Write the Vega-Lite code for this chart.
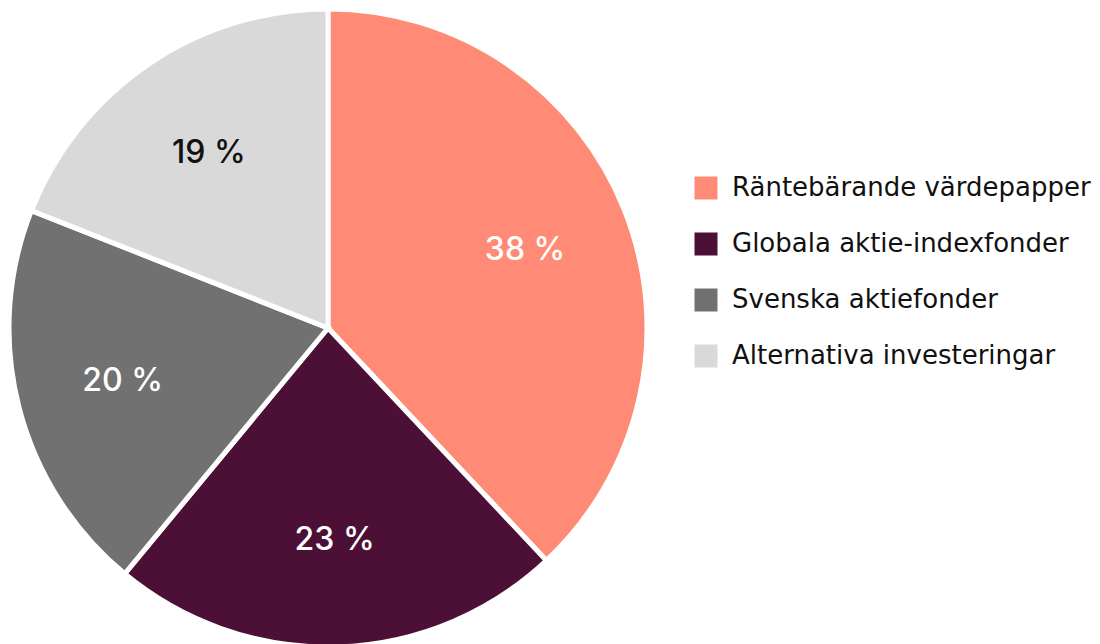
{
  "$schema": "https://vega.github.io/schema/vega-lite/v6.json",
  "width": 656,
  "height": 656,
  "padding": {"left": 0, "top": 0, "right": 444, "bottom": 0},
  "autosize": {"type": "none"},
  "background": "white",
  "config": {"view": {"stroke": null}},
  "data": {
    "values": [
      {"kategori": "Räntebärande värdepapper", "andel": 38, "ordning": 1},
      {"kategori": "Globala aktie-indexfonder", "andel": 23, "ordning": 2},
      {"kategori": "Svenska aktiefonder", "andel": 20, "ordning": 3},
      {"kategori": "Alternativa investeringar", "andel": 19, "ordning": 4}
    ]
  },
  "encoding": {
    "theta": {"field": "andel", "type": "quantitative", "stack": true},
    "order": {"field": "ordning", "type": "quantitative"}
  },
  "layer": [
    {
      "mark": {"type": "arc", "radius": 319, "stroke": "white", "strokeWidth": 5},
      "encoding": {
        "color": {
          "field": "kategori",
          "type": "nominal",
          "sort": null,
          "scale": {
            "domain": ["Räntebärande värdepapper", "Globala aktie-indexfonder", "Svenska aktiefonder", "Alternativa investeringar"],
            "range": ["#FF8A75", "#4C1036", "#717171", "#D9D9D9"]
          },
          "legend": {
            "title": null,
            "orient": "none",
            "legendX": 693,
            "legendY": 175,
            "symbolType": "square",
            "symbolSize": 529,
            "symbolStrokeWidth": 0,
            "labelFont": "DejaVu Sans",
            "labelFontSize": 26,
            "labelColor": "#111111",
            "labelOffset": 13,
            "rowPadding": 30,
            "labelLimit": 500
          }
        }
      }
    },
    {
      "mark": {"type": "text", "radius": 212, "font": "Inter", "fontSize": 32, "fontWeight": 500, "letterSpacing": -1.5},
      "encoding": {
        "text": {"field": "andel_text", "type": "nominal"},
        "color": {
          "condition": {"test": "datum.kategori === 'Alternativa investeringar'", "value": "#111111"},
          "value": "white"
        }
      },
      "transform": [{"calculate": "datum.andel + ' %'", "as": "andel_text"}]
    }
  ]
}
